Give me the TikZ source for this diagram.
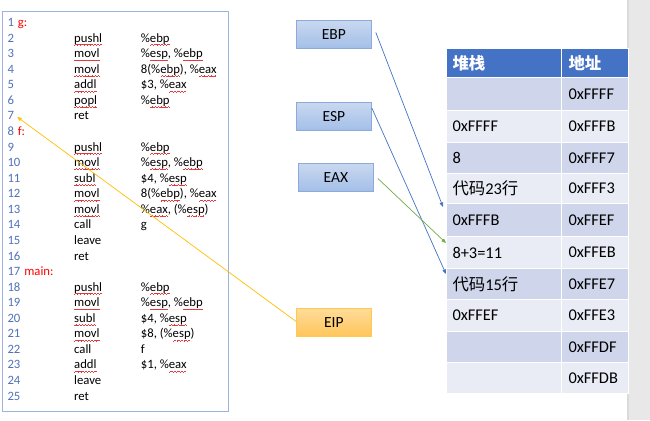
\documentclass[tikz,border=0pt]{standalone}
\usepackage{fontspec}
\setmainfont{Carlito}
\newfontfamily\cjk{Noto Sans CJK SC}
\usetikzlibrary{arrows.meta}
\definecolor{spell}{HTML}{E23B3B}
\newsavebox\sqbox
\newcommand\sqpiece{\hbox{\rule[-3.2pt]{0.75pt}{0.45pt}\rule[-2.75pt]{0.75pt}{0.45pt}\rule[-2.3pt]{0.75pt}{0.45pt}\rule[-2.75pt]{0.75pt}{0.45pt}}}
\newcommand\sq[1]{\sbox\sqbox{#1}\rlap{\usebox\sqbox}{\color{spell}\xleaders\sqpiece\hskip\wd\sqbox\relax}}
\definecolor{numc}{HTML}{4F72B8}
\definecolor{labc}{HTML}{FF0000}
\definecolor{boxc}{HTML}{9CB3DE}
\definecolor{hdr}{HTML}{4472C4}
\definecolor{dark}{HTML}{CFD5EA}
\definecolor{light}{HTML}{E9EBF5}
\definecolor{regt}{HTML}{C9D8F0}
\definecolor{regbot}{HTML}{A3BFE8}
\definecolor{regb}{HTML}{8EAADB}
\definecolor{eipt}{HTML}{FFDC9A}
\definecolor{eipbot}{HTML}{FFC55A}
\definecolor{eipb}{HTML}{FFC94D}
\definecolor{bluel}{HTML}{4472C4}
\definecolor{greenl}{HTML}{70AD47}
\definecolor{yell}{HTML}{FFC000}
\definecolor{stripc}{HTML}{E8E8E8}
\definecolor{stripl}{HTML}{DADADA}
\tikzset{
  num/.style={anchor=base west, inner sep=0pt, text=numc, font=\fontsize{12.7}{15}\selectfont},
  lab/.style={anchor=base west, inner sep=0pt, text=labc, font=\fontsize{12.7}{15}\selectfont},
  ins/.style={anchor=base west, inner sep=0pt, font=\fontsize{12.7}{15}\selectfont},
  reg/.style={draw=regb, line width=0.8pt, top color=regt, bottom color=regbot, minimum width=75pt, minimum height=28pt, anchor=north west, inner sep=0pt, font=\fontsize{15.5}{18}\selectfont},
  eip/.style={reg, draw=eipb, top color=eipt, bottom color=eipbot},
  cella/.style={anchor=north west, draw=white, line width=1pt, text width=103pt, inner xsep=6pt, inner ysep=0pt, align=left, font=\fontsize{16.4}{19}\selectfont},
  cellb/.style={cella, text width=53pt, inner xsep=7pt},
  arr/.style={-{Triangle[length=4.5pt,width=3.5pt]}, line width=0.7pt}
}
\newcommand\cl[3]{%
  \node[num] (n#1) at (7.3,{26.6+(#1-1)*15.56}) {#1};
  \node[ins] (i#1) at (74,{26.6+(#1-1)*15.56}) {#2};
  \node[ins] (o#1) at (140.7,{26.6+(#1-1)*15.56}) {#3};}
\newcommand\cli[2]{%
  \node[num] (n#1) at (7.3,{26.6+(#1-1)*15.56}) {#1};
  \node[ins] (i#1) at (74,{26.6+(#1-1)*15.56}) {#2};}
\newcommand\lb[2]{%
  \node[num] (n#1) at (7.3,{26.6+(#1-1)*15.56}) {#1};
  \node[lab] (l#1) at ([xshift=3.5pt]n#1.base east) {#2};}
\newcommand\trow[6]{%
  \node[cella, fill=#4, minimum height=#3] (r#1a) at (446,#2) {#5};
  \node[cellb, fill=#4, minimum height=#3] (r#1b) at (561,#2) {#6};}
\begin{document}
\begin{tikzpicture}[x=1pt,y=-1pt]
\useasboundingbox (0,0) rectangle (650,420);
\fill[white] (0,0) rectangle (650,420);
\fill[stripc] (627,0) rectangle (650,420);
\fill[stripl] (627,0) rectangle (629,420);
% code box
\draw[boxc, line width=0.8pt] (2,11) rectangle (228,411);
\lb{1}{g:}
\cl{2}{\sq{pushl}}{\%\sq{ebp}}
\cl{3}{\sq{movl}}{\%\sq{esp}, \%\sq{ebp}}
\cl{4}{\sq{movl}}{8(\%\sq{ebp}), \%\sq{eax}}
\cl{5}{\sq{addl}}{\$3, \%\sq{eax}}
\cl{6}{\sq{popl}}{\%\sq{ebp}}
\cli{7}{ret}
\lb{8}{f:}
\cl{9}{\sq{pushl}}{\%\sq{ebp}}
\cl{10}{\sq{movl}}{\%\sq{esp}, \%\sq{ebp}}
\cl{11}{\sq{subl}}{\$4, \%\sq{esp}}
\cl{12}{\sq{movl}}{8(\%\sq{ebp}), \%\sq{eax}}
\cl{13}{\sq{movl}}{\%\sq{eax}, (\%\sq{esp})}
\cl{14}{call}{g}
\cli{15}{leave}
\cli{16}{ret}
\lb{17}{main:}
\cl{18}{\sq{pushl}}{\%\sq{ebp}}
\cl{19}{\sq{movl}}{\%\sq{esp}, \%\sq{ebp}}
\cl{20}{\sq{subl}}{\$4, \%\sq{esp}}
\cl{21}{\sq{movl}}{\$8, (\%\sq{esp})}
\cl{22}{call}{f}
\cl{23}{\sq{addl}}{\$1, \%\sq{eax}}
\cli{24}{leave}
\cli{25}{ret}
% registers
\node[reg] (ebp) at (296,20) {EBP};
\node[reg] (esp) at (296,102) {ESP};
\node[reg] (eax) at (298,163) {EAX};
\node[eip] (eipn) at (296,308) {EIP};
% table
\node[cella, fill=hdr, minimum height=29pt, text=white] (ha) at (446,48) {\cjk\bfseries 堆栈};
\node[cellb, fill=hdr, minimum height=29pt, text=white] (hb) at (561,48) {\cjk\bfseries 地址};
\trow{1}{77}{33pt}{dark}{}{0xFFFF}
\trow{2}{110}{32pt}{light}{0xFFFF}{0xFFFB}
\trow{3}{142}{31pt}{dark}{8}{0xFFF7}
\trow{4}{173}{30pt}{light}{{\cjk 代码}23{\cjk 行}}{0xFFF3}
\trow{5}{203}{33pt}{dark}{0xFFFB}{0xFFEF}
\trow{6}{236}{32pt}{light}{8+3=11}{0xFFEB}
\trow{7}{268}{31pt}{dark}{{\cjk 代码}15{\cjk 行}}{0xFFE7}
\trow{8}{299}{32pt}{light}{0xFFEF}{0xFFE3}
\trow{9}{331}{31pt}{dark}{}{0xFFDF}
\trow{10}{362}{31pt}{light}{}{0xFFDB}
% arrows
\draw[arr, bluel] ([xshift=4pt,yshift=2pt]ebp.east) -- ([xshift=-3pt,yshift=-4pt]r5a.north west);
\draw[arr, bluel] ([yshift=8.5pt]esp.east) -- ([yshift=-6pt]r7a.north west);
\draw[arr, greenl] ([xshift=4pt,yshift=-1pt]eax.east) -- ([yshift=-7pt]r6a.north west);
\draw[arr, yell] ([yshift=1pt]eipn.west) -- ([xshift=3pt,yshift=-1pt]n7.east);
\end{tikzpicture}
\end{document}
